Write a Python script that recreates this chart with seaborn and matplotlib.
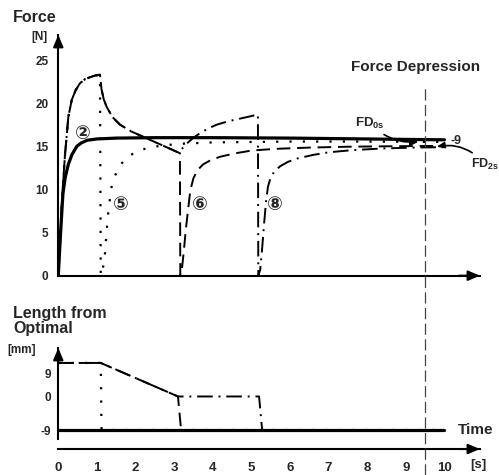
import numpy as np
import pandas as pd
import seaborn as sns
import matplotlib
matplotlib.use("Agg")
import matplotlib.pyplot as plt

sns.set_style("white")
plt.rcParams["font.family"] = ["Liberation Sans", "DejaVu Sans"]
plt.rcParams["font.weight"] = "bold"
plt.rcParams["mathtext.fontset"] = "custom"
plt.rcParams["mathtext.rm"] = "Liberation Sans:bold"
plt.rcParams["mathtext.bf"] = "Liberation Sans:bold"
plt.rcParams["mathtext.it"] = "Liberation Sans:bold"

# ---------------- data ----------------
# curve 2 (solid): isometric at -9 mm
time_2 = [0, 0.06, 0.12, 0.18, 0.26, 0.35, 0.48, 0.6, 0.75, 1.0, 1.5, 2.5, 4, 6, 8, 10]
force_2 = [0, 5.0, 9.5, 11.4, 12.9, 14.0, 15.0, 15.4, 15.7, 15.85, 15.95, 16.0, 16.0, 15.95, 15.85, 15.75]

# common rise at +9 mm (curves 5, 6, 8)
rise_time = [0, 0.05, 0.1, 0.17, 0.26, 0.35, 0.45, 0.56, 0.7, 0.82, 0.95, 1.08]
rise_force = [0, 4.0, 9.0, 13.8, 18.4, 20.4, 21.5, 22.3, 22.8, 23.0, 23.2, 23.3]

# common slow shortening 1.1 -> 3.1 s (curves 6, 8)
ramp_time = [1.12, 1.18, 1.25, 1.4, 1.6, 1.9, 2.2, 2.5, 2.75, 3.0, 3.1]
ramp_force = [21.6, 20.4, 19.6, 18.4, 17.5, 16.7, 16.1, 15.5, 15.0, 14.5, 14.3]

# curve 5 (dotted): fast shortening at 1.1 s
tail5_time = [1.1, 1.12, 1.17, 1.21, 1.25, 1.3, 1.38, 1.47, 1.6, 1.8, 2.0, 2.3, 2.7, 3.2, 4.0, 6.0, 8.0, 10.0]
tail5_force = [0.0, 0.2, 1.2, 2.6, 5.1, 7.6, 10.3, 11.6, 12.8, 13.8, 14.3, 14.8, 15.1, 15.3, 15.45, 15.55, 15.55, 15.5]

# curve 6 (dashed): fast shortening at 3.1 s
tail6_time = [3.15, 3.16, 3.2, 3.25, 3.3, 3.36, 3.42, 3.5, 3.6, 3.75, 3.95, 4.2, 4.6, 5.0, 5.6, 6.5, 7.5, 8.5, 10.0]
tail6_force = [14.2, 0.0, 0.7, 2.8, 5.2, 7.6, 9.9, 11.3, 12.2, 12.9, 13.4, 13.8, 14.2, 14.5, 14.7, 14.85, 14.95, 15.0, 15.05]

# curve 8 (dash-dot): hold at 0 mm, fast shortening at 5.2 s
tail8_time = [3.2, 3.35, 3.5, 3.7, 3.9, 4.1, 4.4, 4.7, 5.0, 5.17, 5.18, 5.23, 5.28, 5.33, 5.38, 5.43,
              5.5, 5.6, 5.75, 5.95, 6.2, 6.6, 7.0, 7.6, 8.4, 9.2, 10.0]
tail8_force = [14.7, 15.4, 16.0, 16.6, 17.1, 17.5, 17.9, 18.2, 18.5, 18.7, 0.0, 0.7, 3.2, 6.0, 8.6, 10.3,
               11.4, 12.1, 12.7, 13.2, 13.6, 14.0, 14.3, 14.55, 14.75, 14.85, 14.9]

time_5 = rise_time + tail5_time
force_5 = rise_force + tail5_force
time_6 = rise_time + ramp_time + tail6_time
force_6 = rise_force + ramp_force + tail6_force
time_8 = rise_time + ramp_time + tail8_time
force_8 = rise_force + ramp_force + tail8_force

# length from optimal [mm]
len_time_2 = [0, 10]
len_2 = [-9, -9]
len_time_5 = [0, 1.1, 1.12, 10]
len_5 = [9, 9, -9, -9]
len_time_6 = [0, 1.1, 3.1, 3.18, 10]
len_6 = [9, 9, 0, -9, -9]
len_time_8 = [0, 1.1, 3.1, 5.2, 5.28, 10]
len_8 = [9, 9, 0, 0, -9, -9]

force_ticks = [0, 5, 10, 15, 20, 25]
length_ticks = [-9, 0, 9]
time_ticks = list(range(11))
fd_time = 9.5

# ---------------- figure ----------------
fig = plt.figure(figsize=(4.99, 4.75), dpi=100)
ax = fig.add_axes([0.1168, 0.4196, 0.845, 0.5067])
axb = fig.add_axes([0.1168, 0.0547, 0.845, 0.2126])

K = "black"
styles = {
    "2": dict(linestyle="-", lw=2.3),
    "5": dict(linestyle=(0, (1, 5)), lw=1.6),
    "6": dict(linestyle=(0, (7, 3.5)), lw=1.4),
    "8": dict(linestyle=(0, (8, 3, 1, 3)), lw=1.4),
}

def line(a, x, y, key):
    sns.lineplot(x=x, y=y, ax=a, color=K, sort=False, estimator=None, **styles[key])

line(ax, time_8, force_8, "8")
line(ax, time_6, force_6, "6")
line(ax, time_5, force_5, "5")
line(ax, time_2, force_2, "2")

line(axb, len_time_8, len_8, "8")
line(axb, len_time_6, len_6, "6")
line(axb, len_time_5, len_5, "5")
line(axb, len_time_2, len_2, "2")

for a in (ax, axb):
    a.patch.set_visible(False)
    a.set_xlim(0, 10.92)
    for s in ("top", "right"):
        a.spines[s].set_visible(False)
    for s in ("left", "bottom"):
        a.spines[s].set_linewidth(1.5)
        a.spines[s].set_color(K)
    a.set_xlabel("")
    a.set_ylabel("")
    a.set_xticks(time_ticks)
    a.tick_params(axis="both", direction="out", length=3, width=1.4, color=K)
    # arrow heads
    a.annotate("", xy=(1.0, 0), xytext=(0.95, 0), xycoords="axes fraction",
               arrowprops=dict(arrowstyle="-|>,head_length=0.7,head_width=0.3", color=K,
                               lw=1.5, shrinkA=0, shrinkB=0), annotation_clip=False)

ax.set_ylim(0, 27.9)
ax.set_yticks(force_ticks)
ax.set_xticklabels([])
ax.tick_params(axis="y", labelsize=8.5, pad=4)
ax.annotate("", xy=(0, 1.0), xytext=(0, 0.95), xycoords="axes fraction",
            arrowprops=dict(arrowstyle="-|>,head_length=0.7,head_width=0.3", color=K,
                            lw=1.5, shrinkA=0, shrinkB=0), annotation_clip=False)

axb.set_ylim(-14.1, 13.0)
axb.spines["left"].set_bounds(-11.4, 13.0)
axb.set_yticks(length_ticks)
axb.set_yticklabels(["-9", "0", ""])
axb.tick_params(axis="y", labelsize=8.5, pad=2)
axb.tick_params(axis="x", labelsize=9.5, pad=6)
axb.annotate("9", xy=(0, 9), xytext=(-5, -9), textcoords="offset points",
             ha="right", va="center", fontsize=8.5, fontweight="bold")
axb.annotate("", xy=(0, 1.0), xytext=(0, 0.9), xycoords="axes fraction",
             arrowprops=dict(arrowstyle="-|>,head_length=0.7,head_width=0.3", color=K,
                             lw=1.5, shrinkA=0, shrinkB=0), annotation_clip=False)

# force depression vertical line spanning both panels
ax.axvline(fd_time, ymin=-0.828, ymax=0.792, color="#444444", lw=0.9,
           linestyle=(0, (9, 3.5)), clip_on=False)

# circled labels
for t, f, s in [(0.627, 16.48, "②"), (1.62, 8.25, "⑤"), (3.66, 8.25, "⑥"), (5.61, 8.25, "⑧")]:
    ax.text(t, f, s, ha="center", va="center", fontsize=13.5, fontweight="bold",
            family=["DejaVu Sans"])

# annotations
ax.text(10.15, 15.6, "-9", ha="left", va="center", fontsize=9, fontweight="bold")
ax.annotate(r"FD$_{0s}$", xy=(9.33, 15.53), xytext=(7.69, 17.7), ha="left", va="center",
            fontsize=9.5, fontweight="bold",
            arrowprops=dict(arrowstyle="-|>,head_length=0.5,head_width=0.2", color=K, lw=1.2,
                            connectionstyle="arc3,rad=0.25", shrinkA=1, shrinkB=0))
ax.annotate(r"FD$_{2s}$", xy=(9.80, 14.95), xytext=(10.68, 12.9), ha="left", va="center",
            fontsize=9, fontweight="bold",
            arrowprops=dict(arrowstyle="-|>,head_length=0.5,head_width=0.2", color=K, lw=1.2,
                            connectionstyle="arc3,rad=0.3", shrinkA=1, shrinkB=0))

W, H = 499.0, 475.0
def ftext(x, y, s, **kw):
    fig.text(x / W, 1 - y / H, s, va="center", fontweight="bold", **kw)

ftext(13, 17, "Force", fontsize=11.5, ha="left")
ftext(31, 37, "[N]", fontsize=8.5, ha="left")
ftext(416, 67.5, "Force Depression", fontsize=11, ha="center")
ftext(13, 321, "Length from\nOptimal", fontsize=11.5, ha="left", linespacing=1.05)
ftext(7, 349.5, "[mm]", fontsize=8.5, ha="left")
ftext(458, 430, "Time", fontsize=11, ha="left")
ftext(470, 465, "[s]", fontsize=9.5, ha="left")

fig.savefig("out.png", dpi=100)
